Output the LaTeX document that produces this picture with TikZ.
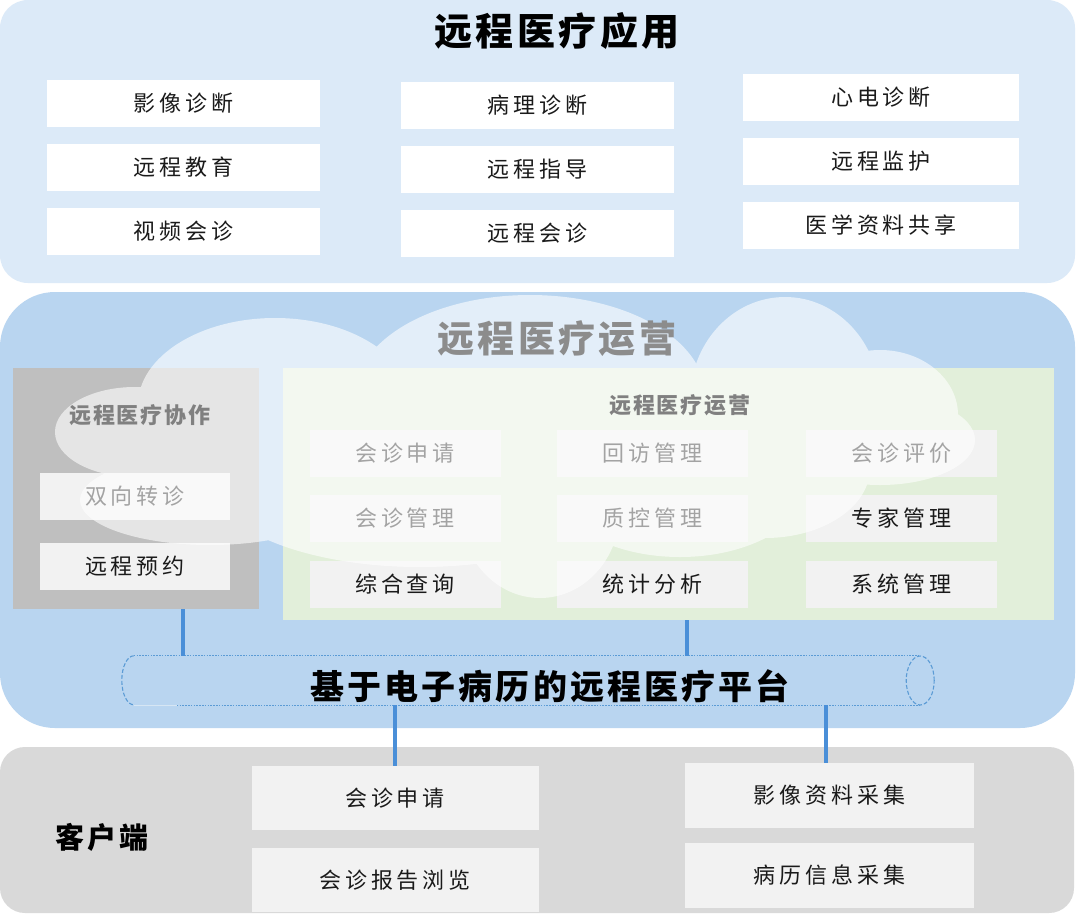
\documentclass[tikz,border=0pt]{standalone}
\usepackage{fontspec}
\setmainfont{Noto Sans CJK SC}
\newfontfamily\cjksp[LetterSpace=18]{Noto Sans CJK SC}
\newfontfamily\cjkti[LetterSpace=9]{Noto Sans CJK SC}
\usetikzlibrary{calc}
\definecolor{topbg}{HTML}{DCEAF8}
\definecolor{midbg}{HTML}{B9D5F0}
\definecolor{graybg}{HTML}{BFBFBF}
\definecolor{greenbg}{HTML}{E2EFDA}
\definecolor{botbg}{HTML}{D9D9D9}
\definecolor{lightbox}{HTML}{F2F2F2}
\definecolor{connblue}{HTML}{4A8FD8}
\definecolor{tubeblue}{HTML}{5B9BD5}
\definecolor{txt}{HTML}{1A1A1A}
\definecolor{titlegray}{HTML}{808080}
\definecolor{cloudgray}{HTML}{8C8C8C}
\begin{document}
\begin{tikzpicture}[x=1pt,y=-1pt,
  panel/.style={draw=none,inner sep=0pt},
  boxtext/.style={inner sep=0pt,text=txt,font=\cjksp\fontsize{22}{24}\selectfont},
  appbox/.style={boxtext,fill=white,minimum width=273pt,minimum height=47pt},
  opbox/.style={boxtext,fill=lightbox,minimum width=191pt,minimum height=47pt},
  colbox/.style={boxtext,fill=lightbox,minimum width=190pt,minimum height=47pt},
  clbox/.style={boxtext,fill=lightbox,minimum width=287pt,minimum height=64pt},
  subtitle/.style={inner sep=0pt,text=titlegray,font=\cjkti\bfseries\fontsize{22}{24}\selectfont},
  connline/.style={draw=connblue,line width=4pt},
  tubedot/.style={draw=tubeblue,line width=1.3pt,dash pattern=on 1.6pt off 1.2pt},
  tubecap/.style={draw=tubeblue,line width=1.1pt,dash pattern=on 4pt off 2pt}
]
\useasboundingbox (0,0) rectangle (1078,916);
\fill[white] (0,0) rectangle (1078,916);

% ---------- top panel ----------
\node[panel,fill=topbg,rounded corners=28pt,minimum width=1075pt,minimum height=283pt] (apppanel) at (537.5,141.5) {};
\node[inner sep=0pt,text=black,font=\cjkti\bfseries\fontsize{38}{40}\selectfont] (apptitle) at (557,31) {远程医疗应用};

\node[appbox] (a11) at (183.5,103) {影像诊断};
\node[appbox] (a21) at (183.5,167) {远程教育};
\node[appbox] (a31) at (183.5,231) {视频会诊};
\node[appbox] (a12) at (537.5,105) {病理诊断};
\node[appbox] (a22) at (537.5,169) {远程指导};
\node[appbox] (a32) at (537.5,233) {远程会诊};
\node[appbox,minimum width=276pt] (a13) at (881,97) {心电诊断};
\node[appbox,minimum width=276pt] (a23) at (881,161) {远程监护};
\node[appbox,minimum width=276pt] (a33) at (881,225) {医学资料共享};

% ---------- middle panel ----------
\node[panel,fill=midbg,rounded corners=55pt,minimum width=1075pt,minimum height=436pt] (midpanel) at (537.5,510) {};

\node[panel,fill=graybg,minimum width=246pt,minimum height=241pt] (collab) at (136,488.5) {};
\node[colbox] (c1) at (135,496.5) {双向转诊};
\node[colbox] (c2) at (135,566.5) {远程预约};

\node[panel,fill=greenbg,minimum width=771pt,minimum height=252pt] (oper) at (668.5,494) {};
\node[opbox] (o11) at (405,453.5) {会诊申请};
\node[opbox] (o12) at (652.5,453.5) {回访管理};
\node[opbox] (o13) at (901.5,453.5) {会诊评价};
\node[opbox] (o21) at (405,518.5) {会诊管理};
\node[opbox] (o22) at (652.5,518.5) {质控管理};
\node[opbox] (o23) at (901.5,518.5) {专家管理};
\node[opbox] (o31) at (405,584) {综合查询};
\node[opbox] (o32) at (652.5,584) {统计分析};
\node[opbox] (o33) at (901.5,584) {系统管理};

% ---------- cloud ----------
\fill[white,opacity=0.6]
  (135,432) ellipse [x radius=80pt,y radius=45pt]
  (210,500) ellipse [x radius=130pt,y radius=45pt]
  (275,405) ellipse [x radius=137pt,y radius=87pt]
  (530,395) ellipse [x radius=175pt,y radius=100pt]
  (785,400) ellipse [x radius=95pt,y radius=103pt]
  (880,415) ellipse [x radius=78pt,y radius=65pt]
  (880,440) ellipse [x radius=95pt,y radius=45pt]
  (765,468) ellipse [x radius=105pt,y radius=70pt]
  (420,480) ellipse [x radius=210pt,y radius=87pt]
  (540,510) ellipse [x radius=80pt,y radius=88pt]
  (680,480) ellipse [x radius=130pt,y radius=77pt];

\node[subtitle] (collabtitle) at (140,415) {远程医疗协作};
\node[subtitle] (opertitle) at (680,405) {远程医疗运营};
\node[inner sep=0pt,text=cloudgray,font=\cjkti\bfseries\fontsize{37}{40}\selectfont] (cloudtitle) at (557,339) {远程医疗运营};

% ---------- platform tube ----------
\node[panel,minimum width=812pt,minimum height=49pt] (tube) at (528,680.5) {};
\draw[tubedot] ([xshift=12pt]tube.north west) -- ([xshift=-14pt]tube.north east);
\draw[tubedot] ([xshift=55pt]tube.south west) -- ([xshift=-14pt]tube.south east);
\draw[draw=tubeblue!25,line width=1pt] ([xshift=12pt]tube.south west) -- ([xshift=55pt]tube.south west);
\draw[tubecap] ([xshift=12pt]tube.north west) arc[start angle=90,end angle=270,x radius=12pt,y radius=24.5pt];
\draw[tubecap] ([xshift=-14pt]tube.east) ellipse [x radius=14pt,y radius=24.5pt];
\node[inner sep=0pt,text=black,font=\cjkti\bfseries\fontsize{34}{36}\selectfont] (platform) at (550,686) {基于电子病历的远程医疗平台};

% ---------- bottom panel ----------
\node[panel,fill=botbg,rounded corners=25pt,minimum width=1074pt,minimum height=166pt] (clientpanel) at (537,830) {};
\node[inner sep=0pt,text=black,font=\cjkti\bfseries\fontsize{29}{31}\selectfont] (clienttitle) at (102,837) {客户端};
\node[clbox] (k1) at (395,798) {会诊申请};
\node[clbox] (k2) at (395,880) {会诊报告浏览};
\node[clbox,minimum width=289pt,minimum height=65pt] (k3) at (829.5,795.5) {影像资料采集};
\node[clbox,minimum width=289pt,minimum height=65pt] (k4) at (829.5,875.5) {病历信息采集};

% ---------- connectors ----------
\draw[connline] ([xshift=47pt]collab.south) -- ([xshift=47pt]collab.south |- tube.north);
\draw[connline] ([xshift=18.5pt]oper.south) -- ([xshift=18.5pt]oper.south |- tube.north);
\draw[connline] (k1.north |- tube.south) -- (k1.north);
\draw[connline] ([xshift=-3.5pt]k3.north |- tube.south) -- ([xshift=-3.5pt]k3.north);
\end{tikzpicture}
\end{document}
